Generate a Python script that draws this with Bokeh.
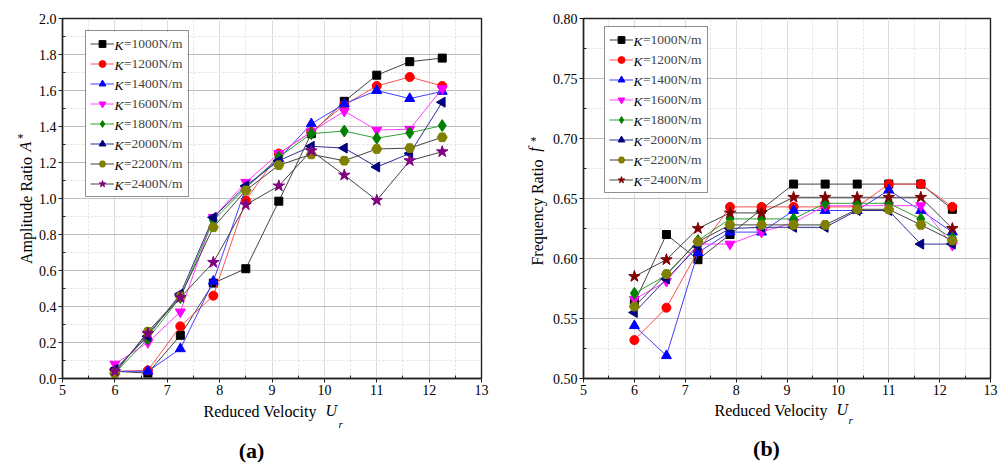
import numpy as np
from bokeh.plotting import figure
from bokeh.layouts import row
from bokeh.models import (FixedTicker, PrintfTickFormatter, Legend, LegendItem, Label,
                          Range1d, LinearAxis, BoxAnnotation)
from bokeh.embed import file_html
from bokeh.resources import INLINE

# ---------------- data ----------------
Ur = [6.0, 6.63, 7.25, 7.88, 8.5, 9.13, 9.75, 10.38, 11.0, 11.63, 12.25]
K_values = ["1000", "1200", "1400", "1600", "1800", "2000", "2200", "2400"]

# Amplitude ratio A*
A_1000 = [0.04, 0.03, 0.24, 0.53, 0.61, 0.985, 1.36, 1.54, 1.685, 1.76, 1.78]
A_1200 = [0.04, 0.045, 0.29, 0.46, 0.99, 1.25, 1.37, 1.52, 1.625, 1.675, 1.625]
A_1400 = [0.04, 0.04, 0.165, 0.54, 1.06, 1.22, 1.415, 1.525, 1.60, 1.555, 1.595]
A_1600 = [0.08, 0.20, 0.37, 0.895, 1.09, 1.25, 1.37, 1.485, 1.38, 1.385, 1.61]
A_1800 = [0.03, 0.22, 0.45, 0.88, 1.06, 1.23, 1.36, 1.375, 1.335, 1.365, 1.405]
A_2000 = [0.05, 0.235, 0.47, 0.895, 1.07, 1.21, 1.29, 1.28, 1.175, 1.25, 1.535]
A_2200 = [0.03, 0.26, 0.455, 0.84, 1.045, 1.185, 1.245, 1.21, 1.275, 1.28, 1.34]
A_2400 = [0.04, 0.25, 0.45, 0.645, 0.965, 1.07, 1.265, 1.13, 0.99, 1.21, 1.26]

# Frequency ratio f*
F_1000 = [0.563, 0.620, 0.599, 0.620, 0.641, 0.662, 0.662, 0.662, 0.662, 0.662, 0.641]
F_1200 = [0.532, 0.559, 0.606, 0.643, 0.643, 0.643, 0.643, 0.643, 0.662, 0.662, 0.643]
F_1400 = [0.544, 0.519, 0.605, 0.622, 0.622, 0.640, 0.640, 0.640, 0.657, 0.640, 0.622]
F_1600 = [0.566, 0.581, 0.612, 0.612, 0.622, 0.630, 0.644, 0.644, 0.644, 0.644, 0.611]
F_1800 = [0.571, 0.586, 0.615, 0.633, 0.633, 0.633, 0.646, 0.646, 0.646, 0.633, 0.617]
F_2000 = [0.555, 0.583, 0.610, 0.625, 0.626, 0.626, 0.626, 0.640, 0.640, 0.612, 0.612]
F_2200 = [0.560, 0.587, 0.614, 0.628, 0.628, 0.628, 0.628, 0.641, 0.641, 0.628, 0.615]
F_2400 = [0.585, 0.599, 0.625, 0.638, 0.638, 0.651, 0.651, 0.651, 0.651, 0.651, 0.625]

X_TICKS = [5, 6, 7, 8, 9, 10, 11, 12, 13]
A_TICKS = [0.0, 0.2, 0.4, 0.6, 0.8, 1.0, 1.2, 1.4, 1.6, 1.8, 2.0]
F_TICKS = [0.50, 0.55, 0.60, 0.65, 0.70, 0.75, 0.80]

A_SERIES = [A_1000, A_1200, A_1400, A_1600, A_1800, A_2000, A_2200, A_2400]
F_SERIES = [F_1000, F_1200, F_1400, F_1600, F_1800, F_2000, F_2200, F_2400]

# ---------------- styles ----------------
FONT = "Liberation Serif"
MARKERS = ["square", "circle", "triangle", "inverted_triangle", "diamond", "triangle", "hex", "star"]
SIZES = [8, 9, 10, 10, 12, 10, 10, 12]
ANGLES = [0, 0, 0, 0, 0, np.pi / 2, 0, 0]
COLORS_A = ["#000000", "#ff0000", "#0000ff", "#ff00ff", "#008000", "#000080", "#808000", "#800080"]
COLORS_F = ["#000000", "#ff0000", "#0000ff", "#ff00ff", "#008000", "#000080", "#808000", "#800000"]
LINE_COLORS = ["#444444", "#ff5050", "#4040ff", "#ff40ff", "#30a030", "#303090", "#444444", "#444444"]
NBSP = "\u00a0"


def minor(ticks, n=2):
    out = []
    for a, b in zip(ticks[:-1], ticks[1:]):
        for j in range(1, n):
            out.append(a + (b - a) * j / n)
    return out


def side_label(p, place, x, y, text, size, style="normal", angle=0.0, align="left", baseline="alphabetic"):
    p.add_layout(Label(x=x, y=y, x_units="screen", y_units="screen", text=text, angle=angle,
                       text_font=FONT, text_font_style=style, text_font_size=size,
                       text_color="black", text_align=align, text_baseline=baseline), place)


def make_panel(width, fl, fr, ft, fb, yr, yticks, yfmt, series, colors, legend_loc, ylab, ylab_standoff):
    p = figure(width=width, height=468, x_range=Range1d(5, 13), y_range=Range1d(*yr),
               output_backend="svg", toolbar_location=None,
               min_border_left=fl, min_border_right=fr, min_border_top=ft, min_border_bottom=fb)
    p.background_fill_color = "white"
    p.border_fill_color = "white"
    p.outline_line_color = "#222222"
    p.outline_line_width = 1.4

    xt = FixedTicker(ticks=X_TICKS, minor_ticks=minor(X_TICKS))
    yt = FixedTicker(ticks=yticks, minor_ticks=minor(yticks))
    p.xaxis.ticker = xt
    p.yaxis.ticker = yt
    p.xgrid.ticker = xt
    p.ygrid.ticker = yt
    p.xaxis.formatter = PrintfTickFormatter(format="%d")
    p.yaxis.formatter = PrintfTickFormatter(format=yfmt)
    for ax in (p.xaxis[0], p.yaxis[0]):
        ax.major_tick_out = 4
        ax.major_tick_in = 0
        ax.minor_tick_in = 3
        ax.minor_tick_out = 0
        ax.axis_line_width = 1.4
        ax.axis_line_color = "#222222"
        ax.major_tick_line_color = "#222222"
        ax.minor_tick_line_color = "#222222"
        ax.major_label_text_font = FONT
        ax.major_label_text_font_size = "14px"
        ax.major_label_text_color = "black"
        ax.major_label_standoff = 2
    p.xgrid.grid_line_color = "#dcdcdc"
    p.ygrid.grid_line_color = "#bdbdbd"
    p.xgrid.minor_grid_line_color = "#dedede"
    p.ygrid.minor_grid_line_color = "#dedede"
    p.xgrid.minor_grid_line_dash = "2 2"
    p.ygrid.minor_grid_line_dash = "2 2"

    # y-axis title on an extra, tick-less axis
    yl = LinearAxis(ticker=FixedTicker(ticks=[]), axis_label=ylab,
                    axis_line_color=None, major_tick_line_color=None, minor_tick_line_color=None,
                    major_tick_out=0, major_tick_in=0, minor_tick_out=0, minor_tick_in=0,
                    major_label_standoff=0, axis_label_standoff=ylab_standoff,
                    axis_label_text_font=FONT, axis_label_text_font_style="normal",
                    axis_label_text_font_size="16px", axis_label_text_color="black")
    p.add_layout(yl, "left")

    # legend: white box under it, transparent legend so the italic K labels show
    pad, gw, gh, sp, so, lw = 4, 24, 17, 3, 10, 60
    W = 2 * pad + gw + so + lw
    H = 2 * pad + 8 * gh + 7 * sp
    lx, ly = legend_loc
    p.add_layout(BoxAnnotation(left=lx, right=lx + W, bottom=ly, top=ly + H,
                               left_units="screen", right_units="screen",
                               bottom_units="screen", top_units="screen",
                               fill_color="white", fill_alpha=1.0, line_color=None, level="underlay"))

    items = []
    for i, ys in enumerate(series):
        lr = p.line(Ur, ys, line_color=LINE_COLORS[i], line_width=1)
        sr = p.scatter(Ur, ys, marker=MARKERS[i], size=SIZES[i], angle=ANGLES[i],
                       fill_color=colors[i], line_color=colors[i])
        items.append(LegendItem(label="=" + K_values[i] + "N/m", renderers=[lr, sr]))

    leg = Legend(items=items, location=legend_loc, padding=pad, spacing=sp,
                 glyph_width=gw, glyph_height=gh, label_height=gh, label_width=lw, label_standoff=so,
                 label_text_font=FONT, label_text_font_size="13.5px",
                 border_line_color="#222222", border_line_width=1,
                 background_fill_alpha=0.0, margin=0)
    p.add_layout(leg)
    for i in range(8):
        p.add_layout(Label(x=lx + pad + gw + 1, y=ly + H - pad - gh / 2 - i * (gh + sp),
                           x_units="screen", y_units="screen", text="K", level="overlay",
                           text_font=FONT, text_font_style="italic", text_font_size="13.5px",
                           text_color="black", text_baseline="middle", text_align="left"))
    return p


# ----- panel (a) -----
pa = make_panel(502, 62, 21, 17, 90, (0.0, 2.0), A_TICKS, "%.1f", A_SERIES, COLORS_A,
                (23, 181), "Amplitude Ratio" + NBSP * 6, 1)
side_label(pa, "left", 12, 241, "*", "12px", align="center", baseline="middle")
side_label(pa, "below", 141, 3, "Reduced Velocity", "16px")
side_label(pa, "below", 263, 21, "U", "16px", style="italic")
side_label(pa, "below", 189, 6, "(a)", "22px", style="bold", align="center", baseline="middle")
side_label(pa, "right", -456, 232, "A", "16px", style="italic", angle=np.pi / 2, align="center", baseline="middle")
side_label(pa, "above", 276, -405, "r", "11px", style="italic")

# ----- panel (b) -----
pb = make_panel(503, 81, 15, 18, 88, (0.50, 0.80), F_TICKS, "%.2f", F_SERIES, COLORS_F,
                (21, 185), "Frequency Ratio" + NBSP * 7, 4)
side_label(pb, "left", 26, 229, "f", "16px", style="italic", angle=np.pi / 2, align="center", baseline="middle")
side_label(pb, "left", 31, 238, "*", "12px", align="center", baseline="middle")
side_label(pb, "below", 131, 4, "Reduced Velocity", "16px")
side_label(pb, "below", 253, 22, "U", "16px", style="italic")
side_label(pb, "below", 183, 8, "(b)", "22px", style="bold", align="center", baseline="middle")
side_label(pb, "right", -142, -41, "r", "11px", style="italic")

layout = row(pa, pb)
open("out.html", "w").write(file_html(layout, INLINE))
